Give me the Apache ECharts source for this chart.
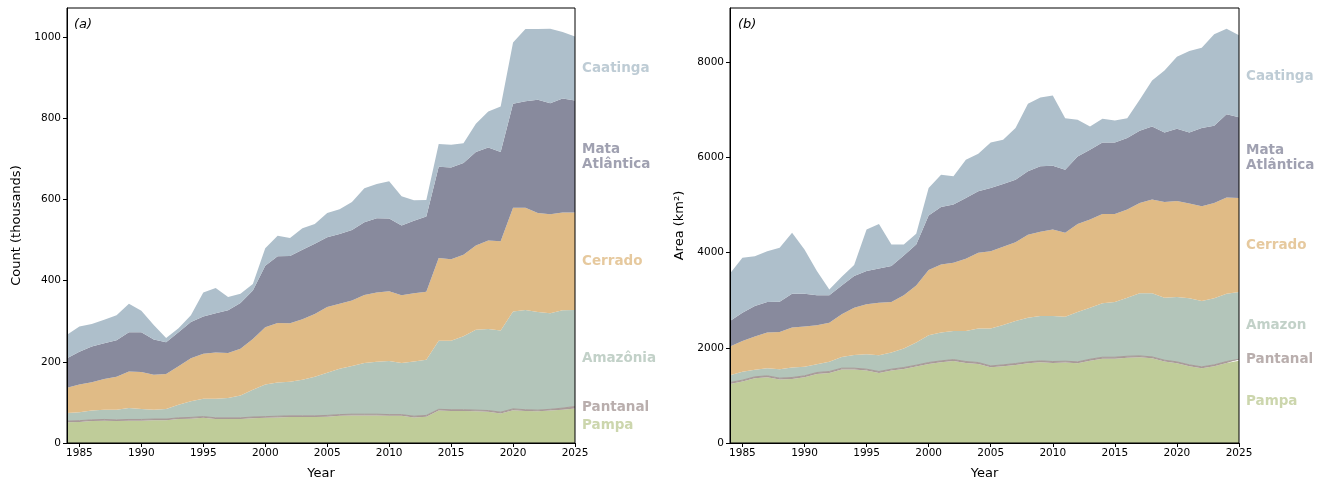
<!DOCTYPE html>
<html>
<head>
<meta charset="utf-8">
<script src="https://cdn.jsdelivr.net/npm/echarts@6/dist/echarts.min.js"></script>
<style>
  html, body { margin: 0; padding: 0; background: #fff; }
  #chart { width: 1325px; height: 480px; }
</style>
</head>
<body>
<div id="chart"></div>
<script>
// Years covered by both panels
const years = [1984,1985,1986,1987,1988,1989,1990,1991,1992,1993,1994,1995,1996,1997,1998,1999,2000,2001,2002,2003,2004,2005,2006,2007,2008,2009,2010,2011,2012,2013,2014,2015,2016,2017,2018,2019,2020,2021,2022,2023,2024,2025];

// Panel (a): counts, in thousands
const countPampa     = [51,52,54,55,54,55,55,56,56,59,60,62,59,59,59,61,62,63,64,64,64,65,67,68,68,68,67,67,63,65,80,79,79,78,77,73,81,79,78,80,82,85];
const countPantanal  = [3,3,3,3,3,3,3,3,3,3,3,3,3,3,3,3,3,3,3,3,3,3,3,3,3,3,3,3,3,3,3,3,3,3,3,3,3,3,3,3,4,5];
const countAmazonia  = [20,21,23,24,25,28,26,23,25,32,40,44,47,49,55,67,79,83,84,89,96,105,113,119,126,129,132,127,135,137,169,170,181,198,201,201,240,246,242,237,241,238];
const countCerrado   = [62,68,70,76,81,90,91,86,86,95,106,111,114,111,115,125,141,147,144,149,155,162,160,161,168,171,172,167,168,168,204,201,201,208,218,220,256,252,244,244,241,240];
const countMata      = [73,81,88,88,90,97,98,87,78,84,89,92,97,105,113,120,152,164,166,171,173,172,172,174,179,183,179,172,179,185,225,226,226,230,229,220,256,262,279,273,281,276];
const countCaatinga  = [58,62,55,58,62,70,53,36,11,10,17,59,62,33,23,16,43,51,44,53,49,60,61,69,84,84,92,72,50,41,56,56,49,70,89,112,151,178,174,184,164,158];

// Panel (b): area, km²
const areaPampa     = [1242,1291,1361,1382,1333,1347,1382,1452,1473,1543,1543,1522,1473,1522,1557,1606,1662,1697,1724,1683,1662,1590,1613,1641,1676,1697,1683,1690,1676,1731,1773,1773,1794,1801,1780,1711,1676,1613,1571,1613,1683,1731];
const areaPantanal  = [30,30,30,30,30,30,30,30,30,30,30,30,30,30,30,30,30,30,30,30,30,30,30,30,30,30,30,30,30,30,30,30,30,30,30,30,30,30,30,30,30,30];
const areaAmazon    = [154,175,147,161,189,210,189,175,203,237,279,314,342,349,398,475,573,594,602,643,713,785,838,894,929,943,957,936,1048,1084,1133,1161,1231,1315,1336,1314,1363,1398,1384,1398,1426,1412];
const areaCerrado   = [601,650,699,748,783,839,846,817,824,895,993,1049,1105,1063,1119,1202,1370,1433,1433,1516,1593,1628,1643,1657,1741,1769,1818,1762,1852,1852,1880,1852,1852,1901,1971,2013,2020,1992,1992,2006,2020,1979];
const areaMata      = [538,594,643,643,636,713,692,630,574,608,664,699,720,755,838,860,1146,1209,1223,1280,1294,1328,1321,1314,1335,1377,1342,1328,1419,1468,1503,1503,1503,1517,1537,1461,1517,1496,1643,1622,1754,1698];
const areaCaatinga  = [1000,1153,1048,1069,1132,1279,929,510,125,182,231,874,936,454,231,224,580,678,594,803,789,958,930,1084,1419,1447,1475,1083,769,489,496,461,419,650,965,1300,1516,1712,1691,1922,1797,1720];

// Tick labels
const xTicks = [1985,1990,1995,2000,2005,2010,2015,2020,2025];
const countTicks = [0,200,400,600,800,1000];
const areaTicks = [0,2000,4000,6000,8000];

// Biome names (bottom to top of the stack)
const namesA = ['Pampa','Pantanal','Amazônia','Cerrado','Mata\nAtlântica','Caatinga'];
const namesB = ['Pampa','Pantanal','Amazon','Cerrado','Mata\nAtlântica','Caatinga'];
const colors = ['#bfcc99','#a89a98','#b3c5ba','#e0bb86','#888a9d','#aebfcb'];

const FONT = 'DejaVu Sans';
const seriesA = [countPampa,countPantanal,countAmazonia,countCerrado,countMata,countCaatinga];
const seriesB = [areaPampa,areaPantanal,areaAmazon,areaCerrado,areaMata,areaCaatinga];
const yearCats = years.map(String);

function stackSeries(arrs, names, idx, stackId) {
  return arrs.map((arr, i) => ({
    type: 'line',
    name: names[i],
    xAxisIndex: idx, yAxisIndex: idx,
    stack: stackId,
    data: arr,
    showSymbol: false,
    symbol: 'none',
    lineStyle: { width: i === 1 ? 1 : 0, color: colors[i] },
    areaStyle: { color: colors[i], opacity: 1 },
    itemStyle: { color: colors[i] },
    z: 2
  }));
}

// Labels placed at the middle of each band in the last year
function endLabels(arrs, names, idx) {
  const last = years.length - 1;
  let base = 0;
  const pts = arrs.map((arr, i) => {
    const v = arr[last];
    const mid = base + v / 2;
    base += v;
    return {
      value: [yearCats[last], mid],
      name: names[i],
      label: { color: colors[i] }
    };
  });
  return {
    type: 'scatter',
    xAxisIndex: idx, yAxisIndex: idx,
    symbolSize: 0,
    clip: false,
    silent: true,
    data: pts,
    label: {
      show: true, position: 'right', distance: 7,
      formatter: '{b}', fontFamily: FONT, fontWeight: 'bold',
      fontSize: 13.5, lineHeight: 15, align: 'left'
    },
    z: 5
  };
}

function totalMax(arrs) {
  let m = 0;
  for (let k = 0; k < years.length; k++) {
    let s = 0;
    arrs.forEach(a => s += a[k]);
    m = Math.max(m, s);
  }
  return m * 1.05;
}

const showYear = (i, v) => xTicks.indexOf(Number(v)) >= 0;

function xAxisCfg(idx) {
  return {
    type: 'category', gridIndex: idx, data: yearCats, boundaryGap: false,
    name: 'Year', nameLocation: 'middle', nameGap: 24,
    nameTextStyle: { fontFamily: FONT, fontSize: 13, color: '#000' },
    axisLine: { show: true, lineStyle: { color: '#000', width: 1 } },
    axisTick: { show: true, length: 4, lineStyle: { color: '#000' }, interval: showYear },
    axisLabel: { fontFamily: FONT, fontSize: 10.5, color: '#000', margin: 5, interval: showYear },
    splitLine: { show: false },
    z: 10
  };
}

function yAxisCfg(idx, name, max, ticks) {
  return {
    type: 'value', gridIndex: idx, min: 0, max: max,
    name: name, nameLocation: 'middle', nameGap: 44, nameRotate: 90,
    nameTextStyle: { fontFamily: FONT, fontSize: 13, color: '#000' },
    axisLine: { show: true, lineStyle: { color: '#000', width: 1 } },
    axisTick: { show: true, length: 4, lineStyle: { color: '#000' }, customValues: ticks },
    axisLabel: { fontFamily: FONT, fontSize: 10.5, color: '#000', margin: 6, customValues: ticks, formatter: v => String(v) },
    splitLine: { show: false },
    z: 10
  };
}

const chart = echarts.init(document.getElementById('chart'), null, { renderer: 'canvas' });
chart.setOption({
  animation: false,
  backgroundColor: '#fff',
  title: [
    { text: '(a)', left: 69, top: 13, textStyle: { fontFamily: FONT, fontSize: 13, fontStyle: 'italic', fontWeight: 'normal', color: '#000' } },
    { text: '(b)', left: 733, top: 13, textStyle: { fontFamily: FONT, fontSize: 13, fontStyle: 'italic', fontWeight: 'normal', color: '#000' } }
  ],
  grid: [
    { left: 67, width: 508, top: 8, height: 435, containLabel: false, outerBoundsMode: 'none', show: true, borderColor: '#000', borderWidth: 1, backgroundColor: 'transparent', z: 8 },
    { left: 730, width: 509, top: 8, height: 435, containLabel: false, outerBoundsMode: 'none', show: true, borderColor: '#000', borderWidth: 1, backgroundColor: 'transparent', z: 8 }
  ],
  xAxis: [xAxisCfg(0), xAxisCfg(1)],
  yAxis: [
    yAxisCfg(0, 'Count (thousands)', totalMax(seriesA), countTicks),
    yAxisCfg(1, 'Area (km²)', totalMax(seriesB), areaTicks)
  ],
  series: [
    ...stackSeries(seriesA, namesA, 0, 'a'),
    ...stackSeries(seriesB, namesB, 1, 'b'),
    endLabels(seriesA, namesA, 0),
    endLabels(seriesB, namesB, 1)
  ]
});
</script>
</body>
</html>
